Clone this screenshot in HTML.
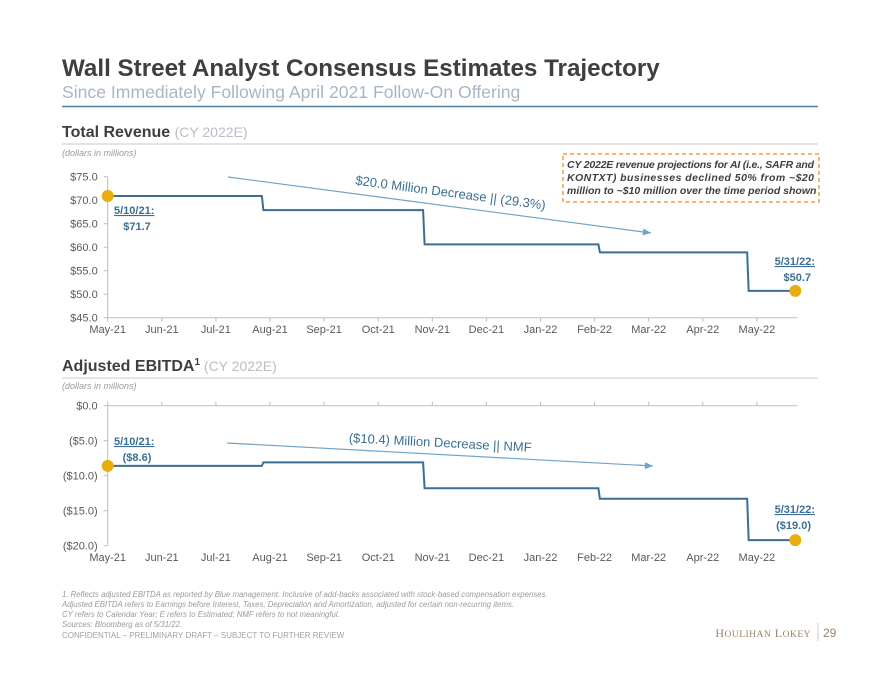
<!DOCTYPE html>
<html><head><meta charset="utf-8"><style>
html,body{margin:0;padding:0;background:#fff;}
svg{display:block;font-family:"Liberation Sans",sans-serif;}
</style></head><body>
<svg id="s" width="880" height="680" viewBox="0 0 880 680">
<text x="62" y="76" font-size="24.2" font-weight="bold" fill="#3f3f3f">Wall Street Analyst Consensus Estimates Trajectory</text>
<text x="62" y="98" font-size="17.6" fill="#a8b6c4">Since Immediately Following April 2021 Follow-On Offering</text>
<line x1="62" y1="106.5" x2="818" y2="106.5" stroke="#4d7fa6" stroke-width="1.5"/>

<text x="62" y="137" font-size="16" font-weight="bold" fill="#3f3f3f">Total Revenue <tspan font-weight="normal" font-size="14" fill="#b8bec4">(CY 2022E)</tspan></text>
<line x1="62" y1="144" x2="818" y2="144" stroke="#c8c8c8" stroke-width="1"/>
<text x="62" y="156" font-size="9" font-style="italic" fill="#9a9a9a">(dollars in millions)</text>

<text x="62" y="371" font-size="16" font-weight="bold" fill="#3f3f3f">Adjusted EBITDA<tspan font-size="10" dy="-6">1</tspan><tspan dy="6" font-weight="normal" font-size="14" fill="#b8bec4"> (CY 2022E)</tspan></text>
<line x1="62" y1="378" x2="818" y2="378" stroke="#c8c8c8" stroke-width="1"/>
<text x="62" y="389" font-size="9" font-style="italic" fill="#9a9a9a">(dollars in millions)</text>

<g id="c1"></g>
<g id="c2"></g>

<rect x="563" y="154" width="256" height="48" fill="none" stroke="#f08a2c" stroke-width="1.3" stroke-dasharray="4,3"/>
<g font-size="10.5" font-weight="bold" font-style="italic" fill="#3f3f3f">
<text x="567" y="168" textLength="247" lengthAdjust="spacing">CY 2022E revenue projections for AI (i.e., SAFR and</text>
<text x="567" y="181" textLength="247" lengthAdjust="spacing">KONTXT)  businesses  declined  50%  from  ~$20</text>
<text x="567" y="194">million to ~$10 million over the time period shown</text>
</g>

<g font-size="7.8" font-style="italic" fill="#9a9a9a">
<text x="62" y="597">1. Reflects adjusted EBITDA as reported by Blue management. Inclusive of add-backs associated with stock-based compensation expenses.</text>
<text x="62" y="607">Adjusted EBITDA refers to Earnings before Interest, Taxes, Depreciation and Amortization, adjusted for certain non-recurring items.</text>
<text x="62" y="617">CY refers to Calendar Year; E refers to Estimated; NMF refers to not meaningful.</text>
<text x="62" y="627">Sources: Bloomberg as of 5/31/22.</text>
</g>
<text x="62" y="638" font-size="8" fill="#a0a0a0">CONFIDENTIAL – PRELIMINARY DRAFT – SUBJECT TO FURTHER REVIEW</text>
<text x="811" y="637" text-anchor="end" font-family="Liberation Serif,serif" font-size="12" fill="#9a8464" letter-spacing="0.5">H<tspan font-size="9.5">OULIHAN</tspan> L<tspan font-size="9.5">OKEY</tspan></text>
<line x1="818" y1="623" x2="818" y2="641" stroke="#c8c8c8"/>
<text x="823" y="637" font-size="12" fill="#9a8464">29</text>
</svg>
<script>
const months = ["May-21","Jun-21","Jul-21","Aug-21","Sep-21","Oct-21","Nov-21","Dec-21","Jan-22","Feb-22","Mar-22","Apr-22","May-22"];
const revStepX = [0, 2.85, 5.83, 9.07, 11.82, 12.71];
const revValues = [70.9, 67.9, 60.6, 58.9, 50.7];
const revTicks = [75, 70, 65, 60, 55, 50, 45];
const revTickLabels = ["$75.0","$70.0","$65.0","$60.0","$55.0","$50.0","$45.0"];
const ebStepX = [0, 2.85, 5.83, 9.07, 11.82, 12.71];
const ebValues = [-8.6, -8.1, -11.8, -13.3, -19.2];
const ebTicks = [0, -5, -10, -15, -20];
const ebTickLabels = ["$0.0","($5.0)","($10.0)","($15.0)","($20.0)"];

const NS="http://www.w3.org/2000/svg";
function mk(p,tag,a,txt){const e=document.createElementNS(NS,tag);for(const k in a)e.setAttribute(k,a[k]);if(txt!=null)e.textContent=txt;p.appendChild(e);return e;}
const X0=107.7, DX=54.1;
const xs=i=>X0+i*DX;

function chart(g,stepX,vals,ticks,tlabels,yTop,yBot,vTop,vBot,axisAtTop,labelY){
  const ys=v=>yTop+(vTop-v)/(vTop-vBot)*(yBot-yTop);
  let e;
  e=mk(g,'line',{x1:X0,y1:yTop,x2:X0,y2:yBot,stroke:'#bdbdbd','stroke-width':1});
  
  
  const ax=axisAtTop?yTop:yBot;
  e=mk(g,'line',{x1:X0,y1:ax,x2:xs(12.71)+2,y2:ax,stroke:'#bdbdbd','stroke-width':1});
  
  
  ticks.forEach((t,i)=>{
    mk(g,'line',{x1:X0-4,y1:ys(t),x2:X0,y2:ys(t),stroke:'#bdbdbd'});
    e=mk(g,'text',{x:X0-10,y:ys(t)+4,'text-anchor':'end','font-size':11,fill:'#595959'},tlabels[i]);
    
    
  });
  months.forEach((m,i)=>{
    mk(g,'line',{x1:xs(i),y1:ax,x2:xs(i),y2:axisAtTop?ax-4:ax+4,stroke:'#bdbdbd'});
    e=mk(g,'text',{x:xs(i),y:labelY,'text-anchor':'middle','font-size':11,fill:'#595959'},m);
    
    
  });
  let d='M'+xs(stepX[0])+','+ys(vals[0]);
  for(let i=0;i<vals.length;i++){
    if(i>0)d+=' L'+(xs(stepX[i])+1.5)+','+ys(vals[i]);
    d+=' L'+xs(stepX[i+1])+','+ys(vals[i]);
  }
  e=mk(g,'path',{d:d,fill:'none',stroke:'#3a6f93','stroke-width':2});
  
  
  e=mk(g,'circle',{cx:xs(stepX[0]),cy:ys(vals[0]),r:6,fill:'#e8ad0e'});
  
  
  e=mk(g,'circle',{cx:xs(stepX[stepX.length-1]),cy:ys(vals[vals.length-1]),r:6,fill:'#e8ad0e'});
  
  
  return ys;
}
function ann(g,x,y,l1,l2,anchor,name){
  let e=mk(g,'text',{x:x,y:y,'text-anchor':anchor,'font-size':11,'font-weight':'bold',fill:'#3a6f93','text-decoration':'underline'},l1);
  
  
  e=mk(g,'text',{x:anchor==='end'?x-4:x+23,y:y+16,'text-anchor':'middle','font-size':11,'font-weight':'bold',fill:'#3a6f93'},l2);
  if(anchor==='end')e.setAttribute('text-anchor','end');
  
  
}
function arrow(g,x1,y1,x2,y2,label,lx,ly,rot,name){
  let e=mk(g,'line',{x1:x1,y1:y1,x2:x2,y2:y2,stroke:'#6fa3c8','stroke-width':1.2});
  
  
  const a=Math.atan2(y2-y1,x2-x1),L=8,W=3.5;
  const bx=x2-L*Math.cos(a),by=y2-L*Math.sin(a);
  mk(g,'polygon',{points:`${x2},${y2} ${bx-W*Math.sin(a)},${by+W*Math.cos(a)} ${bx+W*Math.sin(a)},${by-W*Math.cos(a)}`,fill:'#6fa3c8'});
  e=mk(g,'text',{x:lx,y:ly,'text-anchor':'middle','font-size':13,fill:'#3a6f93',transform:`rotate(${rot} ${lx} ${ly})`},label);
  
  
}
const g1=document.getElementById('c1'),g2=document.getElementById('c2');
chart(g1,revStepX,revValues,revTicks,revTickLabels,176.7,317.7,75,45,false,333);
ann(g1,114,214,'5/10/21:','$71.7','start','revenue-start');
ann(g1,815,265,'5/31/22:','$50.7','end','revenue-end');
arrow(g1,228,177,651,233,'$20.0 Million Decrease || (29.3%)',450,197,7.5,'revenue-decrease');
chart(g2,ebStepX,ebValues,ebTicks,ebTickLabels,405.7,545.7,0,-20,true,561);
ann(g2,114,445,'5/10/21:','($8.6)','start','ebitda-start');
ann(g2,815,513,'5/31/22:','($19.0)','end','ebitda-end');
arrow(g2,227,443,653,466,'($10.4) Million Decrease || NMF',440,447,3,'ebitda-decrease');
</script>
</body></html>
